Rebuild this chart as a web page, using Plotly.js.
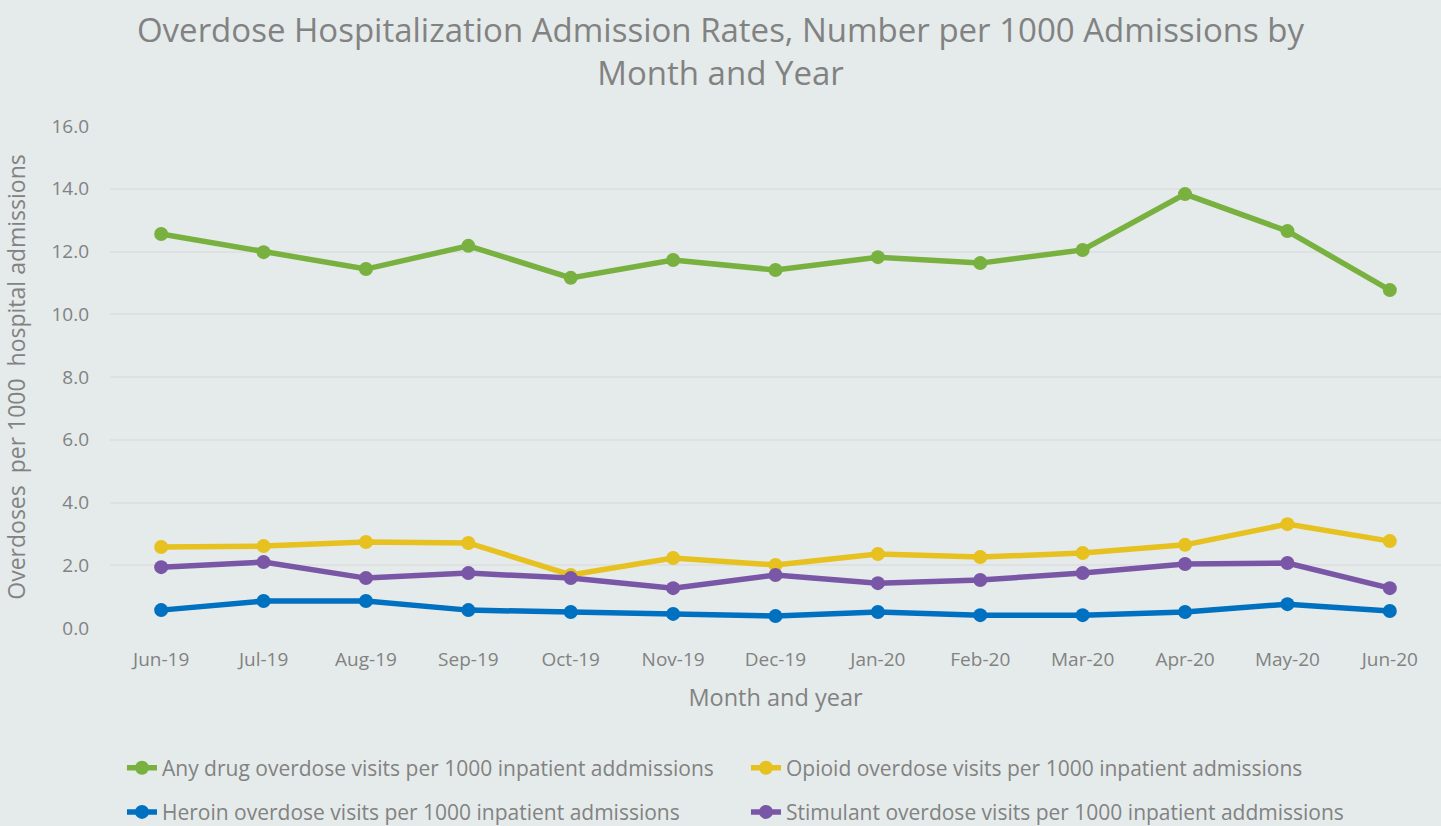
<!DOCTYPE html>
<html>
<head>
<meta charset="utf-8">
<script src="https://cdn.plot.ly/plotly-3.0.1.min.js"></script>
<style>html,body{margin:0;padding:0;background:#e5ebea;}#chart{width:1441px;height:826px;}</style>
</head>
<body>
<div id="chart"></div>
<script>
const months = ["Jun-19","Jul-19","Aug-19","Sep-19","Oct-19","Nov-19","Dec-19","Jan-20","Feb-20","Mar-20","Apr-20","May-20","Jun-20"];
const anyDrug = [12.56,11.98,11.44,12.18,11.16,11.73,11.41,11.82,11.63,12.05,13.83,12.65,10.77];
const opioid = [2.58,2.61,2.74,2.71,1.69,2.23,2.01,2.36,2.26,2.39,2.65,3.31,2.77];
const heroin = [0.57,0.86,0.86,0.57,0.51,0.45,0.38,0.51,0.41,0.41,0.51,0.76,0.54];
const stimulant = [1.94,2.10,1.59,1.75,1.59,1.27,1.69,1.43,1.53,1.75,2.04,2.07,1.27];
const seriesNames = [
  "Any drug overdose visits per 1000 inpatient addmissions",
  "Opioid overdose visits per 1000 inpatient admissions",
  "Heroin overdose visits per 1000 inpatient admissions",
  "Stimulant overdose visits per 1000 inpatient addmissions"
];
const colors = ["#78b13f","#e6c11f","#0070c0","#7a57a6"];
const legendRows = ["legend","legend","legend2","legend2"];
const yTicks = [0,2,4,6,8,10,12,14,16];
const yTickText = ["0.0","2.0","4.0","6.0","8.0","10.0","12.0","14.0","16.0"];

const series = [anyDrug, opioid, heroin, stimulant];
const traces = series.map((vals, i) => ({
  x: months, y: vals, name: seriesNames[i], type: "scatter", mode: "lines+markers",
  line: {color: colors[i], width: 5.5},
  marker: {color: colors[i], size: 14},
  legend: legendRows[i]
}));

const font = "Open Sans, sans-serif";
const gray = "#828282";
const legendBase = {orientation: "h", x: 0.009, xanchor: "left", yanchor: "middle",
  font: {size: 21, color: gray}, entrywidth: 579, entrywidthmode: "pixels",
  bgcolor: "rgba(0,0,0,0)"};
const layout = {
  width: 1441, height: 826,
  paper_bgcolor: "#e5ebea", plot_bgcolor: "#e5ebea",
  margin: {l: 110, r: 0, t: 126, b: 198, autoexpand: false},
  font: {family: font, color: gray},
  title: {text: "Overdose Hospitalization Admission Rates, Number per 1000 Admissions by<br>Month and Year",
    font: {family: font, size: 33, color: gray}, x: 0.5, xanchor: "center", y: 0.949, yanchor: "top"},
  xaxis: {type: "category", range: [-0.5, 12.5], showgrid: false, zeroline: false, showline: false,
    ticks: "", tickfont: {size: 19, color: gray}, ticklabelstandoff: 18,
    title: {text: "Month and year", font: {size: 23.5, color: gray}, standoff: 18}},
  yaxis: {range: [0, 16], tickvals: yTicks, ticktext: yTickText, showgrid: true, gridcolor: "#dfe0e2", gridwidth: 2,
    zeroline: false, ticks: "", ticklen: 0, tickfont: {size: 19, color: gray}, ticklabelstandoff: 20,
    title: {text: "Overdoses  per 1000  hospital admissions", font: {size: 23, color: gray}, standoff: 20}},
  showlegend: true,
  legend: Object.assign({}, legendBase, {y: -0.279}),
  legend2: Object.assign({}, legendBase, {y: -0.367}),
  hovermode: false
};
Plotly.newPlot("chart", traces, layout, {displayModeBar: false, staticPlot: true});
</script>
</body>
</html>
